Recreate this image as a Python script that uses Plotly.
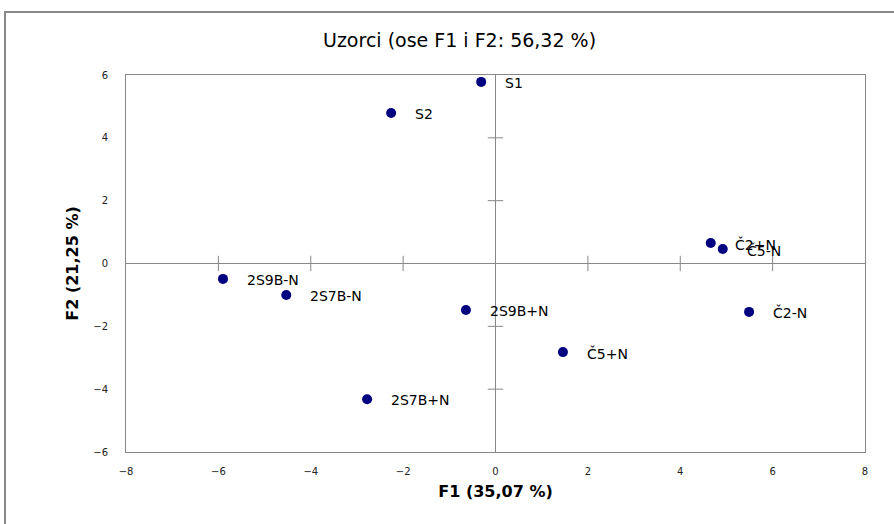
import plotly.graph_objects as go

labels = ["S1", "S2", "Č2+N", "Č5-N", "Č2-N", "2S9B-N", "2S7B-N", "2S9B+N", "Č5+N", "2S7B+N"]
f1 = [-0.31, -2.26, 4.66, 4.92, 5.49, -5.90, -4.53, -0.64, 1.46, -2.78]
f2 = [5.78, 4.79, 0.65, 0.46, -1.54, -0.49, -1.00, -1.48, -2.82, -4.32]

x_ticks = [-8, -6, -4, -2, 0, 2, 4, 6, 8]
y_ticks = [-6, -4, -2, 0, 2, 4, 6]

fig = go.Figure()

# cross-type tick marks on the zero axes (inner ticks only)
xt_inner = [t for t in x_ticks if t not in (0, x_ticks[0], x_ticks[-1])]
yt_inner = [t for t in y_ticks if t not in (0, y_ticks[0], y_ticks[-1])]
fig.add_trace(go.Scatter(
    x=xt_inner, y=[0] * len(xt_inner),
    mode="markers", marker=dict(symbol="line-ns-open", size=11, color="#888888",
                                line=dict(color="#888888", width=1)),
    hoverinfo="skip", showlegend=False))
fig.add_trace(go.Scatter(
    x=[0] * len(yt_inner), y=yt_inner,
    mode="markers", marker=dict(symbol="line-ew-open", size=11, color="#888888",
                                line=dict(color="#888888", width=1)),
    hoverinfo="skip", showlegend=False))

fig.add_trace(go.Scatter(
    x=f1, y=f2, mode="markers",
    marker=dict(color="#000080", size=10, symbol="circle"),
    showlegend=False))

for lab, xv, yv in zip(labels, f1, f2):
    fig.add_annotation(x=xv, y=yv, text=lab, showarrow=False, xanchor="left",
                       xshift=22, yshift=-1,
                       font=dict(family="DejaVu Sans", size=14, color="#000000"))

fig.update_layout(
    width=894, height=524,
    margin=dict(l=126, r=29, t=75, b=72),
    paper_bgcolor="white", plot_bgcolor="white",
    title=dict(text="Uzorci (ose F1 i F2: 56,32 %)", x=0.514, xanchor="center", y=0.923, yanchor="middle",
               font=dict(family="DejaVu Sans", size=19, color="#000000")),
    font=dict(family="DejaVu Sans", color="#000000"),
)
fig.update_xaxes(range=[-8, 8], tickvals=x_ticks, showgrid=False,
                 zeroline=True, zerolinecolor="#888888", zerolinewidth=1,
                 showline=True, linecolor="#888888", linewidth=1, mirror=True,
                 ticks="outside", ticklen=10, tickcolor="rgba(0,0,0,0)",
                 tickfont=dict(family="DejaVu Sans", size=10, color="#222222"),
                 title=dict(text="<b>F1 (35,07 %)</b>", standoff=9,
                            font=dict(family="DejaVu Sans", size=16, color="#000000")))
fig.update_yaxes(range=[-6, 6], tickvals=y_ticks, showgrid=False,
                 zeroline=True, zerolinecolor="#888888", zerolinewidth=1,
                 showline=True, linecolor="#888888", linewidth=1, mirror=True,
                 ticks="outside", ticklen=15, tickcolor="rgba(0,0,0,0)",
                 tickfont=dict(family="DejaVu Sans", size=10, color="#222222"),
                 title=dict(text="<b>F2 (21,25 %)</b>", standoff=10,
                            font=dict(family="DejaVu Sans", size=16, color="#000000")))

# outer chart-area border (cut off at right and bottom as in the reference)
fig.add_shape(type="rect", xref="paper", yref="paper",
              x0=-121 / 739, x1=1.1, y0=-0.3, y1=1 + 63 / 377,
              line=dict(color="#888888", width=2), fillcolor="rgba(0,0,0,0)", layer="below")

fig.write_html("out.html")
